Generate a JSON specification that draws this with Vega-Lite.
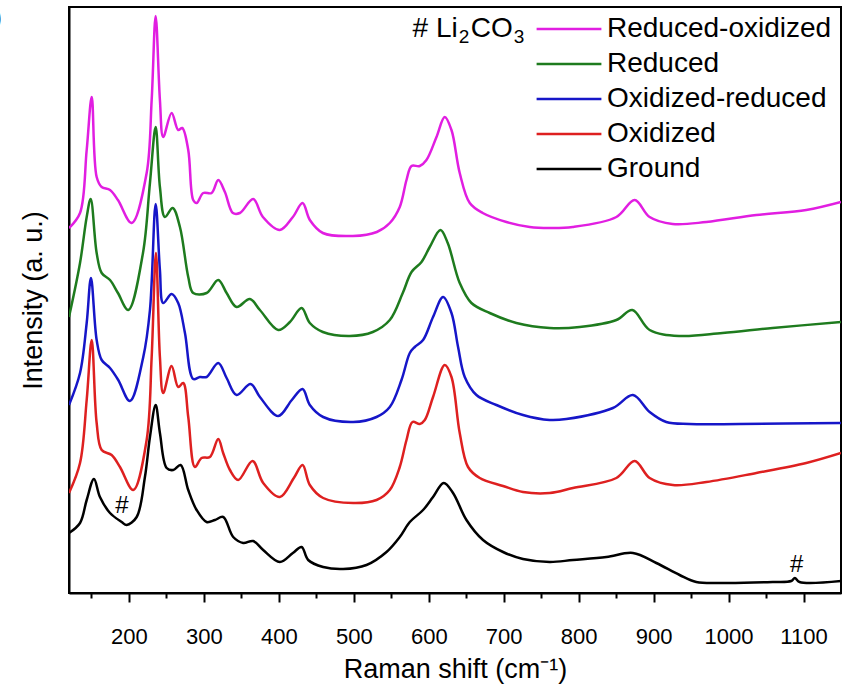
{
  "$schema": "https://vega.github.io/schema/vega-lite/v6.json",
  "autosize": "none",
  "width": 772,
  "height": 586,
  "padding": {"left": 69, "top": 7, "right": 3, "bottom": 93},
  "background": "white",
  "config": {
    "font": "Liberation Sans",
    "view": {"stroke": "black", "strokeWidth": 2}
  },
  "layer": [
    {
      "data": {"values": [
        {"s":"Reduced-oxidized","x":120,"y":365},{"s":"Reduced-oxidized","x":134.7,"y":380},{"s":"Reduced-oxidized","x":143.6,"y":443},{"s":"Reduced-oxidized","x":150.3,"y":496},{"s":"Reduced-oxidized","x":156.9,"y":416},{"s":"Reduced-oxidized","x":163.6,"y":406},{"s":"Reduced-oxidized","x":174.7,"y":403},{"s":"Reduced-oxidized","x":185.3,"y":393},{"s":"Reduced-oxidized","x":203.6,"y":370},{"s":"Reduced-oxidized","x":223.6,"y":420},{"s":"Reduced-oxidized","x":230.3,"y":493},{"s":"Reduced-oxidized","x":235.6,"y":577},{"s":"Reduced-oxidized","x":241.3,"y":493},{"s":"Reduced-oxidized","x":245.7,"y":456},{"s":"Reduced-oxidized","x":256.9,"y":480},{"s":"Reduced-oxidized","x":265.7,"y":463},{"s":"Reduced-oxidized","x":271.1,"y":465},{"s":"Reduced-oxidized","x":279.1,"y":443},{"s":"Reduced-oxidized","x":285.7,"y":393},{"s":"Reduced-oxidized","x":290.3,"y":390},{"s":"Reduced-oxidized","x":299.1,"y":400},{"s":"Reduced-oxidized","x":310.3,"y":400},{"s":"Reduced-oxidized","x":319.1,"y":413},{"s":"Reduced-oxidized","x":328,"y":401},{"s":"Reduced-oxidized","x":338.7,"y":380},{"s":"Reduced-oxidized","x":348,"y":380},{"s":"Reduced-oxidized","x":365.7,"y":394},{"s":"Reduced-oxidized","x":378.7,"y":376},{"s":"Reduced-oxidized","x":401.3,"y":363},{"s":"Reduced-oxidized","x":418.7,"y":376},{"s":"Reduced-oxidized","x":431.6,"y":390},{"s":"Reduced-oxidized","x":441.3,"y":373},{"s":"Reduced-oxidized","x":458.7,"y":360},{"s":"Reduced-oxidized","x":498.7,"y":357},{"s":"Reduced-oxidized","x":530.7,"y":361},{"s":"Reduced-oxidized","x":548,"y":370},{"s":"Reduced-oxidized","x":561.3,"y":386},{"s":"Reduced-oxidized","x":570.3,"y":413},{"s":"Reduced-oxidized","x":577,"y":427},{"s":"Reduced-oxidized","x":588,"y":427},{"s":"Reduced-oxidized","x":596.9,"y":433},{"s":"Reduced-oxidized","x":610.3,"y":456},{"s":"Reduced-oxidized","x":621.3,"y":476},{"s":"Reduced-oxidized","x":630.3,"y":463},{"s":"Reduced-oxidized","x":641.3,"y":420},{"s":"Reduced-oxidized","x":654.7,"y":390},{"s":"Reduced-oxidized","x":672,"y":380},{"s":"Reduced-oxidized","x":703.6,"y":371},{"s":"Reduced-oxidized","x":734.7,"y":366},{"s":"Reduced-oxidized","x":761.3,"y":365},{"s":"Reduced-oxidized","x":792,"y":366},{"s":"Reduced-oxidized","x":850.3,"y":376},{"s":"Reduced-oxidized","x":874.7,"y":393},{"s":"Reduced-oxidized","x":894.7,"y":376},{"s":"Reduced-oxidized","x":925.3,"y":369},{"s":"Reduced-oxidized","x":970.3,"y":371},{"s":"Reduced-oxidized","x":1037,"y":378},{"s":"Reduced-oxidized","x":1103.6,"y":383},{"s":"Reduced-oxidized","x":1150,"y":391},
        {"s":"Reduced","x":120,"y":276},{"s":"Reduced","x":134.7,"y":330},{"s":"Reduced","x":143.6,"y":376},{"s":"Reduced","x":148.9,"y":394},{"s":"Reduced","x":156.9,"y":340},{"s":"Reduced","x":163.6,"y":320},{"s":"Reduced","x":174.7,"y":313},{"s":"Reduced","x":185.3,"y":300},{"s":"Reduced","x":199.1,"y":283},{"s":"Reduced","x":218.7,"y":340},{"s":"Reduced","x":228,"y":410},{"s":"Reduced","x":235.6,"y":466},{"s":"Reduced","x":241.3,"y":406},{"s":"Reduced","x":248,"y":376},{"s":"Reduced","x":258.3,"y":385},{"s":"Reduced","x":268,"y":366},{"s":"Reduced","x":279.1,"y":316},{"s":"Reduced","x":285.7,"y":300},{"s":"Reduced","x":303.6,"y":300},{"s":"Reduced","x":319.1,"y":313},{"s":"Reduced","x":330.3,"y":300},{"s":"Reduced","x":343.6,"y":286},{"s":"Reduced","x":361.3,"y":294},{"s":"Reduced","x":374.7,"y":283},{"s":"Reduced","x":399.1,"y":263},{"s":"Reduced","x":414.7,"y":271},{"s":"Reduced","x":430.3,"y":285},{"s":"Reduced","x":441.3,"y":270},{"s":"Reduced","x":458.7,"y":261},{"s":"Reduced","x":494.7,"y":257},{"s":"Reduced","x":525.3,"y":261},{"s":"Reduced","x":548,"y":273},{"s":"Reduced","x":565.3,"y":300},{"s":"Reduced","x":577,"y":321},{"s":"Reduced","x":590.3,"y":331},{"s":"Reduced","x":601.3,"y":346},{"s":"Reduced","x":615.6,"y":363},{"s":"Reduced","x":625.3,"y":350},{"s":"Reduced","x":641.3,"y":310},{"s":"Reduced","x":656.9,"y":290},{"s":"Reduced","x":681.3,"y":280},{"s":"Reduced","x":716.9,"y":270},{"s":"Reduced","x":761.3,"y":265},{"s":"Reduced","x":801.3,"y":266},{"s":"Reduced","x":850.3,"y":273},{"s":"Reduced","x":871.6,"y":283},{"s":"Reduced","x":894.7,"y":263},{"s":"Reduced","x":934.7,"y":257},{"s":"Reduced","x":992,"y":260},{"s":"Reduced","x":1058.7,"y":265},{"s":"Reduced","x":1150,"y":271},
        {"s":"Oxidized-reduced","x":120,"y":188},{"s":"Oxidized-reduced","x":134.7,"y":220},{"s":"Oxidized-reduced","x":143.6,"y":270},{"s":"Oxidized-reduced","x":149.3,"y":315},{"s":"Oxidized-reduced","x":156.9,"y":253},{"s":"Oxidized-reduced","x":163.6,"y":233},{"s":"Oxidized-reduced","x":174.7,"y":225},{"s":"Oxidized-reduced","x":185.7,"y":213},{"s":"Oxidized-reduced","x":201.3,"y":192},{"s":"Oxidized-reduced","x":219.1,"y":236},{"s":"Oxidized-reduced","x":228,"y":283},{"s":"Oxidized-reduced","x":235.6,"y":389},{"s":"Oxidized-reduced","x":241.3,"y":323},{"s":"Oxidized-reduced","x":245.7,"y":290},{"s":"Oxidized-reduced","x":256.9,"y":299},{"s":"Oxidized-reduced","x":265.7,"y":290},{"s":"Oxidized-reduced","x":274.7,"y":260},{"s":"Oxidized-reduced","x":285.7,"y":214},{"s":"Oxidized-reduced","x":294.7,"y":216},{"s":"Oxidized-reduced","x":303.6,"y":216},{"s":"Oxidized-reduced","x":319.1,"y":230},{"s":"Oxidized-reduced","x":330.3,"y":215},{"s":"Oxidized-reduced","x":343.6,"y":198},{"s":"Oxidized-reduced","x":362.3,"y":209},{"s":"Oxidized-reduced","x":374.7,"y":196},{"s":"Oxidized-reduced","x":399.1,"y":177},{"s":"Oxidized-reduced","x":417.3,"y":193},{"s":"Oxidized-reduced","x":431.6,"y":204},{"s":"Oxidized-reduced","x":441.3,"y":188},{"s":"Oxidized-reduced","x":459.1,"y":176},{"s":"Oxidized-reduced","x":499.1,"y":171},{"s":"Oxidized-reduced","x":530.3,"y":176},{"s":"Oxidized-reduced","x":548,"y":186},{"s":"Oxidized-reduced","x":563.6,"y":213},{"s":"Oxidized-reduced","x":574.7,"y":240},{"s":"Oxidized-reduced","x":581.3,"y":246},{"s":"Oxidized-reduced","x":592.4,"y":253},{"s":"Oxidized-reduced","x":605.7,"y":276},{"s":"Oxidized-reduced","x":619.1,"y":296},{"s":"Oxidized-reduced","x":630.3,"y":280},{"s":"Oxidized-reduced","x":639.1,"y":246},{"s":"Oxidized-reduced","x":648,"y":216},{"s":"Oxidized-reduced","x":663.6,"y":198},{"s":"Oxidized-reduced","x":690.3,"y":188},{"s":"Oxidized-reduced","x":725.7,"y":178},{"s":"Oxidized-reduced","x":761.3,"y":173},{"s":"Oxidized-reduced","x":783.6,"y":174},{"s":"Oxidized-reduced","x":845.7,"y":185},{"s":"Oxidized-reduced","x":872.4,"y":198},{"s":"Oxidized-reduced","x":894.7,"y":181},{"s":"Oxidized-reduced","x":916.9,"y":171},{"s":"Oxidized-reduced","x":948,"y":169},{"s":"Oxidized-reduced","x":1014.7,"y":169},{"s":"Oxidized-reduced","x":1150,"y":170},
        {"s":"Oxidized","x":120,"y":100},{"s":"Oxidized","x":134.7,"y":130},{"s":"Oxidized","x":143.6,"y":193},{"s":"Oxidized","x":150.3,"y":253},{"s":"Oxidized","x":156.9,"y":170},{"s":"Oxidized","x":163.6,"y":143},{"s":"Oxidized","x":176.9,"y":138},{"s":"Oxidized","x":188,"y":126},{"s":"Oxidized","x":205.7,"y":103},{"s":"Oxidized","x":223.6,"y":153},{"s":"Oxidized","x":230.3,"y":236},{"s":"Oxidized","x":236,"y":340},{"s":"Oxidized","x":241.3,"y":236},{"s":"Oxidized","x":245.7,"y":200},{"s":"Oxidized","x":256.9,"y":227},{"s":"Oxidized","x":265.7,"y":206},{"s":"Oxidized","x":272.4,"y":210},{"s":"Oxidized","x":279.1,"y":176},{"s":"Oxidized","x":288,"y":126},{"s":"Oxidized","x":296.9,"y":135},{"s":"Oxidized","x":308,"y":136},{"s":"Oxidized","x":319.1,"y":154},{"s":"Oxidized","x":325.7,"y":140},{"s":"Oxidized","x":334.7,"y":123},{"s":"Oxidized","x":345.7,"y":113},{"s":"Oxidized","x":364.9,"y":132},{"s":"Oxidized","x":379.1,"y":110},{"s":"Oxidized","x":401.3,"y":96},{"s":"Oxidized","x":420,"y":115},{"s":"Oxidized","x":431.6,"y":128},{"s":"Oxidized","x":441.3,"y":108},{"s":"Oxidized","x":459.1,"y":95},{"s":"Oxidized","x":499.1,"y":90},{"s":"Oxidized","x":530.3,"y":93},{"s":"Oxidized","x":548,"y":103},{"s":"Oxidized","x":561.3,"y":126},{"s":"Oxidized","x":570.3,"y":153},{"s":"Oxidized","x":578.3,"y":171},{"s":"Oxidized","x":588,"y":169},{"s":"Oxidized","x":594.7,"y":173},{"s":"Oxidized","x":605.7,"y":196},{"s":"Oxidized","x":621.3,"y":228},{"s":"Oxidized","x":630.3,"y":216},{"s":"Oxidized","x":641.3,"y":160},{"s":"Oxidized","x":652.4,"y":126},{"s":"Oxidized","x":668,"y":115},{"s":"Oxidized","x":699.1,"y":107},{"s":"Oxidized","x":725.7,"y":101},{"s":"Oxidized","x":761.3,"y":100},{"s":"Oxidized","x":792.4,"y":105},{"s":"Oxidized","x":850.3,"y":115},{"s":"Oxidized","x":874.7,"y":132},{"s":"Oxidized","x":894.7,"y":115},{"s":"Oxidized","x":925.7,"y":108},{"s":"Oxidized","x":970.3,"y":111},{"s":"Oxidized","x":1037,"y":120},{"s":"Oxidized","x":1103.6,"y":130},{"s":"Oxidized","x":1150,"y":140},
        {"s":"Ground","x":120,"y":60},{"s":"Ground","x":134.7,"y":70},{"s":"Ground","x":143.6,"y":93},{"s":"Ground","x":153.3,"y":114},{"s":"Ground","x":161.3,"y":96},{"s":"Ground","x":174.7,"y":80},{"s":"Ground","x":190.3,"y":71},{"s":"Ground","x":196.9,"y":68},{"s":"Ground","x":210.3,"y":76},{"s":"Ground","x":221.3,"y":116},{"s":"Ground","x":228,"y":156},{"s":"Ground","x":235.6,"y":188},{"s":"Ground","x":241.3,"y":160},{"s":"Ground","x":250.3,"y":125},{"s":"Ground","x":259.1,"y":123},{"s":"Ground","x":268.9,"y":128},{"s":"Ground","x":279.1,"y":103},{"s":"Ground","x":290.3,"y":83},{"s":"Ground","x":303.6,"y":71},{"s":"Ground","x":314.7,"y":73},{"s":"Ground","x":325.7,"y":76},{"s":"Ground","x":339.1,"y":56},{"s":"Ground","x":352.4,"y":50},{"s":"Ground","x":365.7,"y":52},{"s":"Ground","x":379.1,"y":43},{"s":"Ground","x":401.3,"y":31},{"s":"Ground","x":418.7,"y":40},{"s":"Ground","x":430.3,"y":46},{"s":"Ground","x":439.1,"y":33},{"s":"Ground","x":459.1,"y":26},{"s":"Ground","x":485.7,"y":24},{"s":"Ground","x":516.9,"y":28},{"s":"Ground","x":543.6,"y":41},{"s":"Ground","x":561.3,"y":56},{"s":"Ground","x":574.7,"y":71},{"s":"Ground","x":592.4,"y":83},{"s":"Ground","x":605.7,"y":96},{"s":"Ground","x":620,"y":110},{"s":"Ground","x":632.4,"y":100},{"s":"Ground","x":650.3,"y":73},{"s":"Ground","x":672.4,"y":53},{"s":"Ground","x":699.1,"y":41},{"s":"Ground","x":725.7,"y":34},{"s":"Ground","x":761.3,"y":31},{"s":"Ground","x":792.4,"y":33},{"s":"Ground","x":837,"y":36},{"s":"Ground","x":872.4,"y":40},{"s":"Ground","x":903.6,"y":30},{"s":"Ground","x":934.7,"y":18},{"s":"Ground","x":956.9,"y":11},{"s":"Ground","x":992.4,"y":10},{"s":"Ground","x":1059,"y":11},{"s":"Ground","x":1083.6,"y":12},{"s":"Ground","x":1088.4,"y":15},{"s":"Ground","x":1094.7,"y":11},{"s":"Ground","x":1150,"y":12}
      ]},
      "mark": {"type": "line", "strokeWidth": 2.5, "interpolate": "catmull-rom", "clip": true},
      "encoding": {
        "x": {
          "field": "x", "type": "quantitative",
          "scale": {"domain": [120, 1150], "nice": false, "zero": false},
          "axis": {
            "title": "Raman shift (cm⁻¹)",
            "titleFontSize": 27, "titleFontWeight": "normal", "titleColor": "black", "titlePadding": 9,
            "values": [150,200,250,300,350,400,450,500,550,600,650,700,750,800,850,900,950,1000,1050,1100],
            "format": "d",
            "labelExpr": "datum.value % 100 === 0 ? datum.label : ''",
            "labelFontSize": 22, "labelColor": "black", "labelPadding": 24, "labelFlush": false, "labelOverlap": false,
            "tickSize": {"condition": {"test": "datum.value % 100 === 0", "value": 9}, "value": 5},
            "tickColor": "black", "tickWidth": 2,
            "domainColor": "black", "domainWidth": 2, "grid": false
          }
        },
        "y": {
          "field": "y", "type": "quantitative",
          "scale": {"domain": [0, 586], "nice": false, "zero": false},
          "axis": {
            "title": "Intensity (a. u.)",
            "titleFontSize": 27, "titleFontWeight": "normal", "titleColor": "black", "titlePadding": 22,
            "labels": false, "ticks": false, "grid": false,
            "domainColor": "black", "domainWidth": 2
          }
        },
        "color": {
          "field": "s", "type": "nominal",
          "scale": {
            "domain": ["Reduced-oxidized", "Reduced", "Oxidized-reduced", "Oxidized", "Ground"],
            "range": ["#e11ee1", "#1e7b1e", "#1616c8", "#de2020", "#000000"]
          },
          "legend": {
            "title": null, "orient": "none", "legendX": 485, "legendY": 7,
            "symbolType": "M-2.4,0H2.4", "symbolSize": 729, "symbolStrokeWidth": 2.5,
            "labelFontSize": 28, "labelColor": "black", "labelOffset": 23, "labelLimit": 0,
            "rowPadding": 6, "padding": 0
          }
        }
      }
    },
    {
      "data": {"values": [
        {"x": 190.7, "y": 87, "t": "#"},
        {"x": 1090.7, "y": 28, "t": "#"}
      ]},
      "mark": {"type": "text", "fontSize": 24, "fill": "black", "align": "center", "baseline": "middle"},
      "encoding": {
        "x": {"field": "x", "type": "quantitative"},
        "y": {"field": "y", "type": "quantitative"},
        "text": {"field": "t"}
      }
    },
    {
      "data": {"values": [
        {"x": 638.7, "y": 556, "t": "# Li"}
      ]},
      "mark": {"type": "text", "fontSize": 28, "fill": "black", "align": "right", "baseline": "alphabetic"},
      "encoding": {
        "x": {"field": "x", "type": "quantitative"},
        "y": {"field": "y", "type": "quantitative"},
        "text": {"field": "t"}
      }
    },
    {
      "data": {"values": [
        {"x": 656, "y": 556, "t": "CO"}
      ]},
      "mark": {"type": "text", "fontSize": 28, "fill": "black", "align": "left", "baseline": "alphabetic"},
      "encoding": {
        "x": {"field": "x", "type": "quantitative"},
        "y": {"field": "y", "type": "quantitative"},
        "text": {"field": "t"}
      }
    },
    {
      "data": {"values": [
        {"x": 640, "y": 550, "t": "2"},
        {"x": 713.3, "y": 550, "t": "3"}
      ]},
      "mark": {"type": "text", "fontSize": 19, "fill": "black", "align": "left", "baseline": "alphabetic"},
      "encoding": {
        "x": {"field": "x", "type": "quantitative"},
        "y": {"field": "y", "type": "quantitative"},
        "text": {"field": "t"}
      }
    },
    {
      "data": {"values": [
        {"x": 30.7, "y": 575, "t": "b)"}
      ]},
      "mark": {"type": "text", "fontSize": 28, "fill": "black", "align": "right", "baseline": "middle", "clip": false},
      "encoding": {
        "x": {"field": "x", "type": "quantitative"},
        "y": {"field": "y", "type": "quantitative"},
        "text": {"field": "t"}
      }
    }
  ]
}
